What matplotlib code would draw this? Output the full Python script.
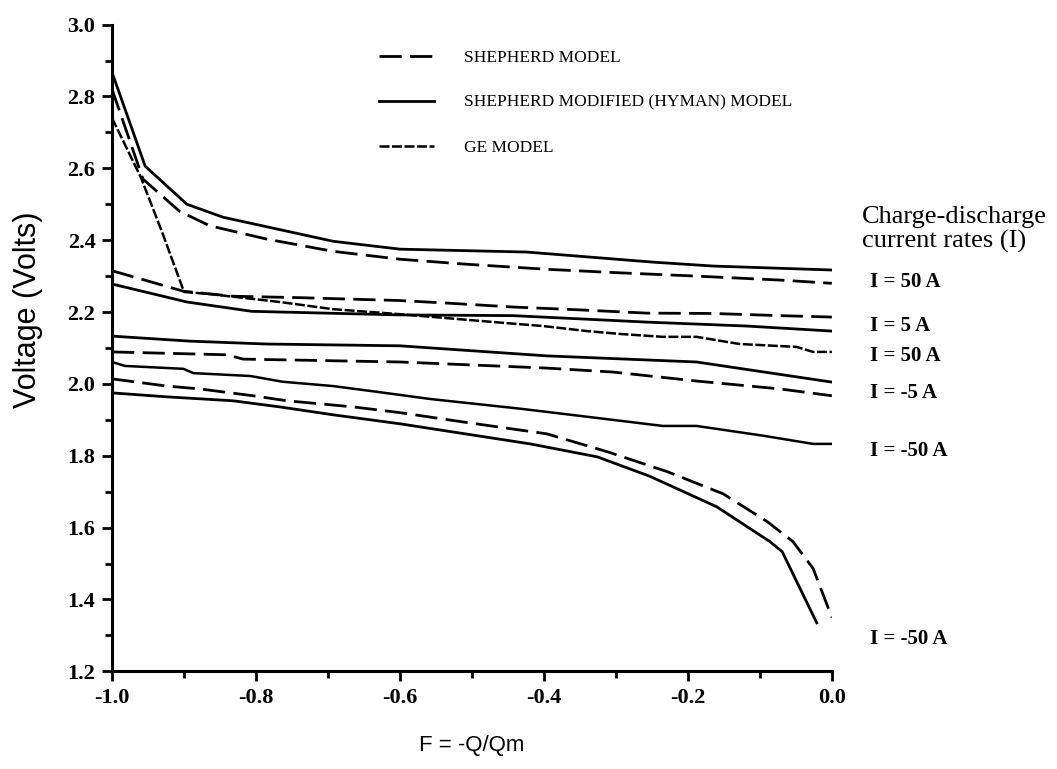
import numpy as np
import matplotlib.pyplot as plt
from matplotlib.ticker import MultipleLocator, FormatStrFormatter

# Shepherd model (dashed), Shepherd modified / Hyman (solid), GE model (short dashes)
shep_p50_x = [-1.0, -0.957, -0.906, -0.864, -0.785, -0.693, -0.6, -0.507, -0.396, -0.304, -0.188, -0.072, 0.0]
shep_p50_y = [2.82, 2.57, 2.48, 2.44, 2.403, 2.369, 2.347, 2.333, 2.319, 2.31, 2.30, 2.289, 2.28]
hyman_p50_x = [-1.0, -0.954, -0.896, -0.846, -0.693, -0.6, -0.424, -0.249, -0.165, 0.0]
hyman_p50_y = [2.867, 2.606, 2.50, 2.464, 2.397, 2.375, 2.367, 2.339, 2.328, 2.317]

shep_p5_x = [-1.0, -0.901, -0.832, -0.739, -0.6, -0.535, -0.443, -0.35, -0.257, -0.165, -0.072, 0.0]
shep_p5_y = [2.315, 2.258, 2.244, 2.24, 2.232, 2.225, 2.214, 2.206, 2.197, 2.196, 2.19, 2.186]
hyman_p5_x = [-1.0, -0.896, -0.806, -0.6, -0.443, -0.257, -0.118, 0.0]
hyman_p5_y = [2.278, 2.228, 2.202, 2.192, 2.19, 2.172, 2.161, 2.147]

ge_p50_x = [-1.0, -0.96, -0.93, -0.90, -0.864, -0.767, -0.693, -0.6, -0.451, -0.401, -0.34,
            -0.294, -0.235, -0.188, -0.128, -0.049, -0.026, 0.0]
ge_p50_y = [2.74, 2.575, 2.42, 2.256, 2.25, 2.228, 2.208, 2.194, 2.169, 2.161, 2.147,
            2.139, 2.131, 2.131, 2.111, 2.103, 2.089, 2.089]

hyman_m5_x = [-1.0, -0.892, -0.785, -0.6, -0.396, -0.188, 0.0]
hyman_m5_y = [2.133, 2.119, 2.111, 2.106, 2.078, 2.061, 2.005]
shep_m5_x = [-1.0, -0.84, -0.818, -0.6, -0.396, -0.304, -0.188, -0.072, 0.0]
shep_m5_y = [2.089, 2.081, 2.069, 2.061, 2.044, 2.033, 2.008, 1.986, 1.967]

ge_m50_x = [-1.0, -0.982, -0.901, -0.887, -0.808, -0.763, -0.693, -0.632, -0.558, -0.433,
            -0.35, -0.235, -0.188, -0.096, -0.026, 0.0]
ge_m50_y = [2.061, 2.05, 2.042, 2.03, 2.022, 2.006, 1.994, 1.978, 1.958, 1.931,
            1.911, 1.883, 1.883, 1.856, 1.833, 1.833]

shep_m50_x = [-1.0, -0.924, -0.878, -0.804, -0.757, -0.665, -0.6, -0.512, -0.396, -0.31,
              -0.229, -0.151, -0.09, -0.054, -0.026, 0.0]
shep_m50_y = [2.014, 1.994, 1.986, 1.967, 1.953, 1.936, 1.92, 1.894, 1.861, 1.81,
              1.756, 1.694, 1.617, 1.561, 1.486, 1.35]
hyman_m50_x = [-1.0, -0.924, -0.832, -0.767, -0.693, -0.6, -0.419, -0.326, -0.253, -0.16,
               -0.086, -0.069, -0.021]
hyman_m50_y = [1.975, 1.964, 1.953, 1.936, 1.914, 1.889, 1.833, 1.797, 1.743, 1.658,
               1.561, 1.533, 1.335]

legend_labels = ["SHEPHERD MODEL", "SHEPHERD MODIFIED (HYMAN) MODEL", "GE MODEL"]
rate_labels = ["I = 50 A", "I = 5 A", "I = 50 A", "I = -5 A", "I = -50 A", "I = -50 A"]
rate_label_y = [2.285, 2.16, 2.078, 1.975, 1.812, 1.29]

serif = "Liberation Serif"
sans = "Liberation Sans"

fig = plt.figure(figsize=(10.57, 7.69), dpi=100)
ax = fig.add_axes([0.106, 0.127, 0.681, 0.841])

dash = (0, (8, 3))
ge = (0, (4, 1))
kw = dict(color="black", lw=2.0)

l_shep, = ax.plot(shep_p50_x, shep_p50_y, ls=dash, **kw)
l_hyman, = ax.plot(hyman_p50_x, hyman_p50_y, ls="-", **kw)
ax.plot(shep_p5_x, shep_p5_y, ls=dash, **kw)
ax.plot(hyman_p5_x, hyman_p5_y, ls="-", **kw)
l_ge, = ax.plot(ge_p50_x, ge_p50_y, ls=ge, color="black", lw=1.8)
ax.plot(hyman_m5_x, hyman_m5_y, ls="-", **kw)
ax.plot(shep_m5_x, shep_m5_y, ls=dash, **kw)
ax.plot(ge_m50_x, ge_m50_y, ls="-", color="black", lw=1.8)
ax.plot(shep_m50_x, shep_m50_y, ls=dash, **kw)
ax.plot(hyman_m50_x, hyman_m50_y, ls="-", **kw)

ax.legend([l_shep, l_hyman, l_ge], legend_labels, loc="upper left",
          bbox_to_anchor=(0.349, 0.985), frameon=False, handlelength=3.2,
          handletextpad=1.7, labelspacing=1.65,
          prop=dict(family=serif, size=12.5))

# axes look
ax.set_xlim(-1.0, 0.0)
ax.set_ylim(1.2, 3.0)
for s in ["top", "right"]:
    ax.spines[s].set_visible(False)
for s in ["left", "bottom"]:
    ax.spines[s].set_linewidth(2.2)
ax.xaxis.set_major_locator(MultipleLocator(0.2))
ax.xaxis.set_minor_locator(MultipleLocator(0.1))
ax.yaxis.set_major_locator(MultipleLocator(0.2))
ax.yaxis.set_minor_locator(MultipleLocator(0.1))
ax.xaxis.set_major_formatter(FormatStrFormatter("%.1f"))
ax.yaxis.set_major_formatter(FormatStrFormatter("%.1f"))
ax.tick_params(which="major", direction="out", length=7, width=2, pad=5)
ax.tick_params(which="minor", direction="out", length=5, width=2)
for t in ax.get_xticklabels() + ax.get_yticklabels():
    t.set_fontfamily(serif)
    t.set_fontweight("bold")
    t.set_fontsize(16)

ax.set_xlabel("F = -Q/Qm", family=sans, fontsize=16, va="center")
ax.xaxis.set_label_coords(0.5, -(745 - 671) / 646)
fig.text(28 / 1057, 1 - 310 / 769, "Voltage (Volts)", family=sans, fontsize=22,
         rotation=90, ha="center", va="center")

# current rate labels on the right
ax.text(0.042, 2.43, "Charge-discharge\ncurrent rates (I)", family=serif, fontsize=19,
        va="center", ha="left", linespacing=1.1, clip_on=False)
for lab, yy in zip(rate_labels, rate_label_y):
    ax.text(0.053, yy, lab, family=serif, fontsize=15, fontweight="bold",
            va="center", ha="left", clip_on=False)

plt.savefig("out.png", dpi=100)
